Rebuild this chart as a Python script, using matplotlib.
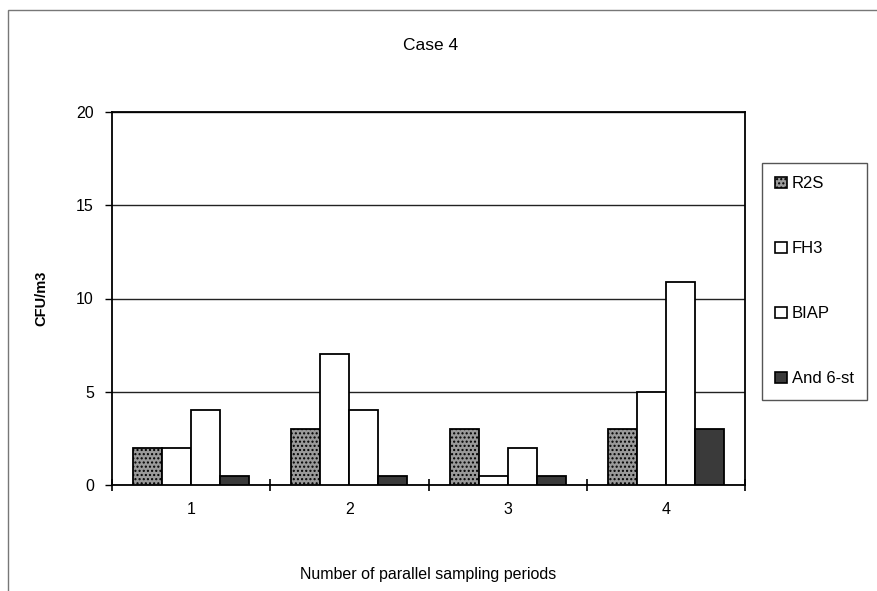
import matplotlib.pyplot as plt
import numpy as np
from matplotlib.patches import Patch, Rectangle

plt.rcParams["font.family"] = ["Liberation Sans", "DejaVu Sans"]
plt.rcParams["hatch.color"] = "#555555"

periods = ["1", "2", "3", "4"]
series = ["R2S", "FH3", "BIAP", "And 6-st"]
r2s = [2, 3, 3, 3]
fh3 = [2, 7, 0.5, 5]
biap = [4, 4, 2, 10.9]
and6 = [0.5, 0.5, 0.5, 3]
y_ticks = [0, 5, 10, 15, 20]

values = [r2s, fh3, biap, and6]
faces = ["#9a9a9a", "white", "white", "#3a3a3a"]
hatches = ["....", None, None, None]

fig = plt.figure(figsize=(8.77, 5.91), dpi=100)
ax = fig.add_axes([112 / 877, 1 - 485 / 591, 633 / 877, 373 / 591])

x = np.arange(len(periods))
width = 0.183
for i, (vals, fc, hatch) in enumerate(zip(values, faces, hatches)):
    ax.bar(x + (i - 1.5) * width, vals, width, color=fc, edgecolor="black",
           linewidth=1.3, hatch=hatch, zorder=3)

ax.set_xlim(-0.5, len(periods) - 0.5)
ax.set_ylim(0, 20)
ax.set_yticks(y_ticks)
ax.set_yticklabels([str(v) for v in y_ticks], fontsize=11.5)
ax.yaxis.grid(True, color="#222222", linewidth=1.0, zorder=0)
ax.set_xticks(x)
ax.set_xticklabels(periods, fontsize=11.5)
ax.set_xticks(np.arange(len(periods) + 1) - 0.5, minor=True)
ax.tick_params(axis="x", which="major", length=0, pad=12)
ax.tick_params(axis="x", which="minor", length=8, direction="inout", width=1.2)
ax.tick_params(axis="y", length=5, direction="out", width=1.0, pad=8)
for s in ax.spines.values():
    s.set_linewidth(1.3)

ax.set_xlabel("Number of parallel sampling periods", fontsize=11.5, labelpad=36)
ax.set_ylabel("CFU/m3", fontsize=10.5, fontweight="bold", labelpad=20)
fig.text(431 / 877, 1 - 45 / 591, "Case 4", ha="center", va="center", fontsize=12.5)

handles = [Patch(facecolor=fc, edgecolor="black", hatch=h, linewidth=1.2)
           for fc, h in zip(faces, hatches)]
leg = fig.legend(handles, series, loc="upper left",
                 bbox_to_anchor=(762 / 877, 1 - 163 / 591), fontsize=12,
                 handlelength=0.7, handleheight=0.7, handletextpad=0.3,
                 labelspacing=3.0, borderpad=0.8, borderaxespad=0,
                 fancybox=False, edgecolor="#555555", framealpha=1)
leg.get_frame().set_linewidth(1.0)

# outer chart frame
fig.patches.append(Rectangle((8 / 877, -0.01), 1.0, 1 - 10 / 591 + 0.01,
                             transform=fig.transFigure, fill=False,
                             edgecolor="#777777", linewidth=1.0))

fig.savefig("out.png", dpi=100)
